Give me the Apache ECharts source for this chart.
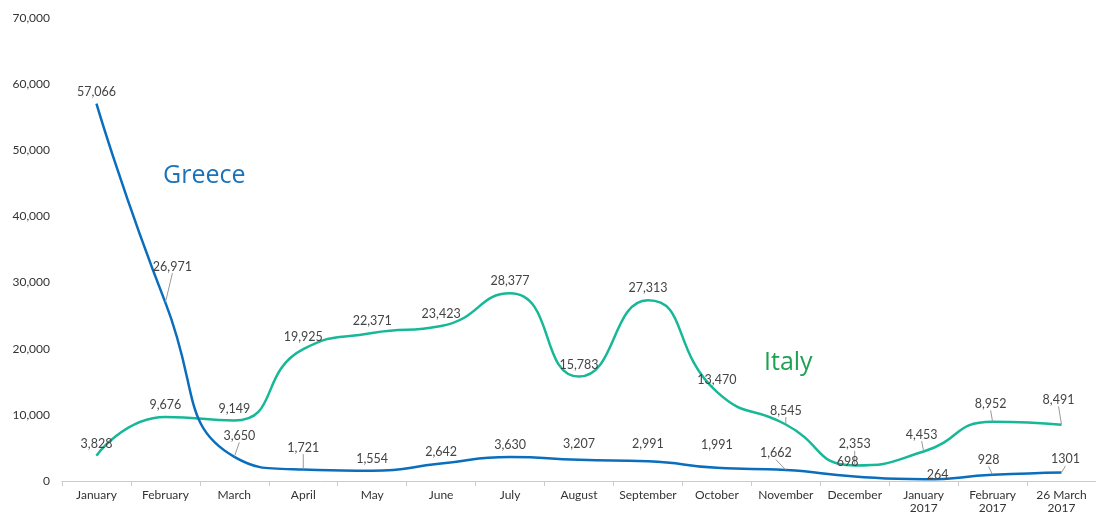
<!DOCTYPE html>
<html>
<head>
<meta charset="utf-8">
<script src="https://cdn.jsdelivr.net/npm/echarts@6/dist/echarts.min.js"></script>
<style>html,body{margin:0;padding:0;background:#fff;}#c{width:1096px;height:515px;}</style>
</head>
<body>
<div id="c"></div>
<script>
var categories = ['January','February','March','April','May','June','July','August','September','October','November','December','January\n2017','February\n2017','26 March\n2017'];
var greece = [57066, 26971, 3650, 1721, 1554, 2642, 3630, 3207, 2991, 1991, 1662, 698, 264, 928, 1301];
var italy = [3828, 9676, 9149, 19925, 22371, 23423, 28377, 15783, 27313, 13470, 8545, 2353, 4453, 8952, 8491];
var greeceLabels = ['57,066','26,971','3,650','1,721','1,554','2,642','3,630','3,207','2,991','1,991','1,662','698','264','928','1301'];
var italyLabels = ['3,828','9,676','9,149','19,925','22,371','23,423','28,377','15,783','27,313','13,470','8,545','2,353','4,453','8,952','8,491'];

// label displacement (style): [dx, dy] relative to default 'top' placement
var greeceShift = {1:[7,-24],2:[5,-9],3:[0,-10],7:[0,-4],8:[0,-5],9:[0,-11],10:[-10,-5],11:[-7,-2],12:[14,8],13:[-4,-3],14:[4,-1]};
var italyShift = {10:[0,-2],11:[0,-9],12:[-2,-5],13:[-2,-6],14:[-3,-13]};
var greeceLeader = [1,2,3,10,13,14];
var italyLeader = [10,11,12,13,14];

var chart = echarts.init(document.getElementById('c'));
var FONT = 'Lato, "Open Sans", sans-serif';
function mkSeries(name, vals, labels, color, shift, leaders) {
  return {
    name: name, type: 'line', smooth: 0.55,
    data: vals.map(function(v, i){ return {value: v, labelLine: {show: leaders.indexOf(i) >= 0}}; }),
    symbol: 'circle', symbolSize: 1, showSymbol: true,
    itemStyle: {color: 'rgba(0,0,0,0)'},
    lineStyle: {color: color, width: 2.5},
    label: {show: true, position: 'top', distance: 5, color: '#444', fontSize: 12.5, fontFamily: FONT,
      formatter: function(p){ return labels[p.dataIndex]; }},
    labelLine: {show: false, lineStyle: {color: '#999', width: 1}},
    labelLayout: function(p){
      var s = shift[p.dataIndex];
      if (s) return {dx: s[0], dy: s[1]};
      return {};
    },
    z: name === 'Greece' ? 3 : 2
  };
}
chart.setOption({
  animation: false,
  grid: {left: 62, right: 0, top: 18, bottom: 32, containLabel: false},
  xAxis: {
    type: 'category', data: categories, boundaryGap: true,
    axisLine: {lineStyle: {color: '#ccc'}},
    axisTick: {show: true, length: 5, lineStyle: {color: '#ccc'}},
    axisLabel: {color: '#333', fontSize: 12, fontFamily: FONT, margin: 8, lineHeight: 13, interval: 0}
  },
  yAxis: {
    type: 'value', min: 0, max: 70000, interval: 10000,
    splitLine: {show: false}, axisLine: {show: false}, axisTick: {show: false},
    axisLabel: {color: '#333', fontSize: 12, fontFamily: FONT, margin: 12,
      formatter: function(v){ return v.toLocaleString('en-US'); }}
  },
  series: [
    mkSeries('Italy', italy, italyLabels, '#17b897', italyShift, italyLeader),
    mkSeries('Greece', greece, greeceLabels, '#0a6ebd', greeceShift, greeceLeader)
  ],
  graphic: [
    {type: 'text', left: 163, top: 163, style: {text: 'Greece', fill: '#1a73ba', fontSize: 25, fontFamily: '"Open Sans", sans-serif'}},
    {type: 'text', left: 764, top: 350, style: {text: 'Italy', fill: '#1fa153', fontSize: 25, fontFamily: '"Open Sans", sans-serif'}}
  ]
});
</script>
</body>
</html>
